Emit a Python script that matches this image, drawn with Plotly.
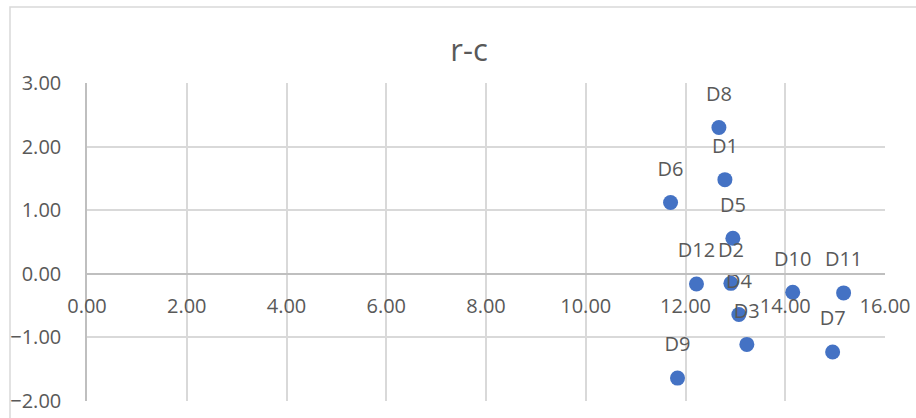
import plotly.graph_objects as go

# Sample points: name, r value (x), c value (y)
names = ["D1", "D2", "D3", "D4", "D5", "D6", "D7", "D8", "D9", "D10", "D11", "D12"]
x_vals = [12.79, 12.91, 13.23, 13.07, 12.95, 11.70, 14.95, 12.67, 11.84, 14.15, 15.17, 12.22]
y_vals = [1.48, -0.15, -1.11, -0.64, 0.56, 1.12, -1.23, 2.30, -1.64, -0.29, -0.30, -0.16]

x_range = [0, 16]
y_range = [-2, 3]

TEXT = "#595959"
GRID = "#D9D9D9"
AXIS = "#BFBFBF"
FONT = "Open Sans"

fig = go.Figure()

# point markers
fig.add_trace(
    go.Scatter(
        x=x_vals,
        y=y_vals,
        mode="markers",
        marker=dict(size=15, color="#4472C4"),
        cliponaxis=False,
        hoverinfo="skip",
    )
)
# data labels drawn over the markers, lifted by an invisible larger marker
fig.add_trace(
    go.Scatter(
        x=x_vals,
        y=y_vals,
        mode="markers+text",
        text=names,
        textposition="top center",
        textfont=dict(family=FONT, size=20, color=TEXT),
        marker=dict(size=33, color="rgba(0,0,0,0)"),
        cliponaxis=False,
        hoverinfo="skip",
    )
)

# horizontal axis crosses the vertical one at y = 0
cross = (0 - y_range[0]) / (y_range[1] - y_range[0])

fig.update_layout(
    width=916,
    height=418,
    margin=dict(l=87, r=31, t=83, b=17),
    paper_bgcolor="white",
    plot_bgcolor="white",
    showlegend=False,
    font=dict(family=FONT, color=TEXT),
    title=dict(
        text="r-c",
        x=0.512,
        xref="container",
        xanchor="center",
        y=1 - 50 / 418,
        yref="container",
        yanchor="middle",
        font=dict(family=FONT, size=31, color=TEXT),
    ),
    xaxis=dict(
        range=x_range,
        dtick=2,
        tick0=0,
        tickformat=".2f",
        showgrid=True,
        gridcolor=GRID,
        gridwidth=1.5,
        zeroline=False,
        showline=True,
        linecolor=AXIS,
        linewidth=1.5,
        anchor="free",
        position=cross,
        ticks="outside",
        ticklen=14,
        tickcolor="rgba(0,0,0,0)",
        tickfont=dict(family=FONT, size=20, color=TEXT),
        automargin=False,
    ),
    yaxis=dict(
        range=y_range,
        dtick=1,
        tick0=0,
        tickformat=".2f",
        showgrid=True,
        gridcolor=GRID,
        gridwidth=1.5,
        zeroline=False,
        showline=True,
        linecolor=AXIS,
        linewidth=1.5,
        ticks="outside",
        ticklen=20,
        tickcolor="rgba(0,0,0,0)",
        tickfont=dict(family=FONT, size=20, color=TEXT),
        automargin=False,
    ),
    shapes=[
        # chart area frame
        dict(
            type="rect",
            xref="paper",
            yref="paper",
            x0=(10 - 87) / 798,
            x1=1.2,
            y0=-0.2,
            y1=1 + (83 - 7) / 318,
            line=dict(color=GRID, width=1.5),
            fillcolor="rgba(0,0,0,0)",
            layer="below",
        )
    ],
)

fig.write_html("out.html")
